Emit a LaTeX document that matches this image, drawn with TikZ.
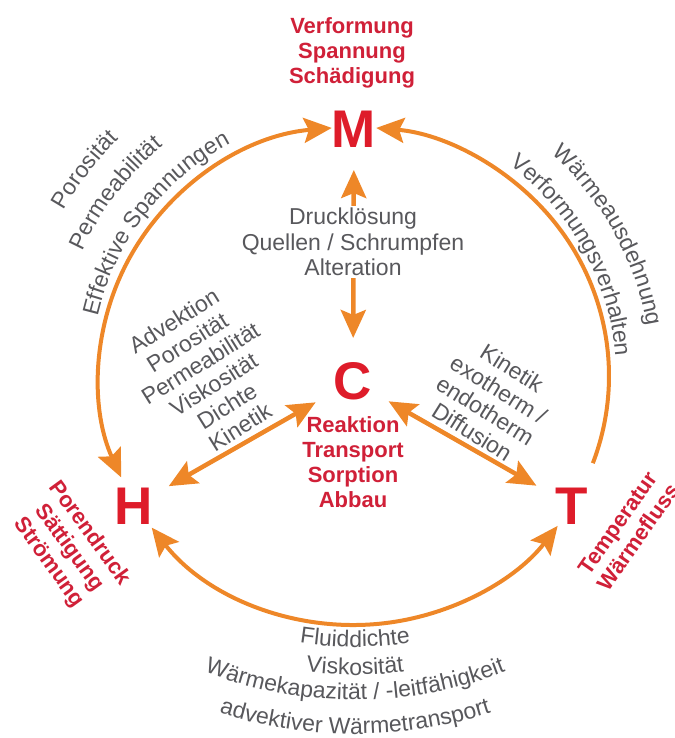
\documentclass[tikz,border=0pt]{standalone}
\usepackage{fontspec}
\setmainfont{Liberation Sans}
\usepackage{tikz}
\usetikzlibrary{arrows.meta}
\usetikzlibrary{decorations.text}
\definecolor{arrowOrange}{RGB}{238,135,40}
\definecolor{labelRed}{RGB}{208,32,56}
\definecolor{letterRed}{RGB}{222,28,42}
\definecolor{textGrey}{RGB}{88,88,92}
\newcommand{\greytext}{\fontsize{23}{25}\selectfont\color{textGrey}}

\begin{document}
\begin{tikzpicture}[x=1pt, y=1pt,
				   letter/.style={font=\bfseries\fontsize{53}{53}\selectfont, text=letterRed, inner sep=0pt},
				   redlabel/.style={font=\bfseries\fontsize{22}{25}\selectfont, text=labelRed, align=center, inner sep=0pt},
				   greylabel/.style={font=\fontsize{23}{25}\selectfont, text=textGrey, align=center, inner sep=0pt},
				   ring/.style={draw=arrowOrange, line width=4pt},
				   link/.style={draw=arrowOrange, line width=4.5pt},
				   arctext/.style={decorate, decoration={text along path, text align=center, text={|\greytext|#1}}},
				   >={Stealth[length=28pt, width=25pt, inset=5pt]}]
\useasboundingbox (0,0) rectangle (674,738);
\clip (0,0) rectangle (674,738);
\coordinate (o) at (354,362);
\coordinate (p) at (355,450);
\node[letter] (M) at (354,609) {M};
\node[letter] (C) at (353,357) {C};
\node[letter] (H) at (134,232) {H};
\node[letter] (T) at (572,232) {T};
\node[redlabel] (mLabel) at (352,685) {Verformung\\Spannung\\Schädigung};
\node[redlabel] (cLabel) at (353,276) {Reaktion\\Transport\\Sorption\\Abbau};
\node[redlabel, rotate=-54] (hLabel) at (69,190) {Porendruck\\Sättigung\\Strömung};
\node[redlabel, rotate=55] (tLabel) at (628,208) {Temperatur\\Wärmefluss};
\path (o) ++(95:255 and 249) coordinate (mhStart);
\path (o) ++(-20.5:255 and 249) coordinate (tmStart);
\path (o) ++(217.5:255 and 249) coordinate (htStart);
\draw[ring, <->] (mhStart) arc[start angle=95, end angle=204, x radius=255, y radius=249];
\draw[ring, ->] (tmStart) arc[start angle=-20.5, end angle=85, x radius=255, y radius=249];
\draw[ring, <->] (htStart) arc[start angle=217.5, end angle=323, x radius=255, y radius=249];
\draw[link, <->, shorten <=43pt, shorten >=41pt] (C.center) -- (M.center);
\draw[link, <->, shorten <=43pt, shorten >=40pt] (C.center) -- (H.center);
\draw[link, <->, shorten <=41pt, shorten >=41pt] (C.center) -- (T.center);
\node[greylabel, fill=white, inner sep=2pt, font=\fontsize{23}{25.5}\selectfont] (cmText) at (353,496) {Drucklösung\\Quellen / Schrumpfen\\Alteration};
\node[greylabel, rotate=32] (chText) at (207,364) {Advektion\\Porosität\\Permeabilität\\Viskosität\\Dichte\\Kinetik};
\node[greylabel, rotate=-32] (ctText) at (492,338) {Kinetik\\exotherm /\\endotherm\\Diffusion};
\path[arctext={Porosität}] (o) ++(182.5:334) arc[start angle=182.5, end angle=102.5, radius=334];
\path[arctext={Permeabilität}] (o) ++(182.5:299) arc[start angle=182.5, end angle=102.5, radius=299];
\path[arctext={Effektive Spannungen}] (o) ++(182.5:263) arc[start angle=182.5, end angle=102.5, radius=263];
\path[arctext={Wärmeausdehnung}] (o) ++(74:297) arc[start angle=74, end angle=-16, radius=297];
\path[arctext={Verformungsverhalten}] (o) ++(74:262) arc[start angle=74, end angle=-16, radius=262];
\path[arctext={Fluiddichte}] (p) ++(240:359) arc[start angle=240, end angle=300, radius=359];
\path[arctext={Viskosität}] (p) ++(240:387) arc[start angle=240, end angle=300, radius=387];
\path[arctext={Wärmekapazität / -leitfähigkeit}] (p) ++(225:412) arc[start angle=225, end angle=315, radius=412];
\path[arctext={advektiver Wärmetransport}] (p) ++(225:446) arc[start angle=225, end angle=315, radius=446];
\end{tikzpicture}
\end{document}
